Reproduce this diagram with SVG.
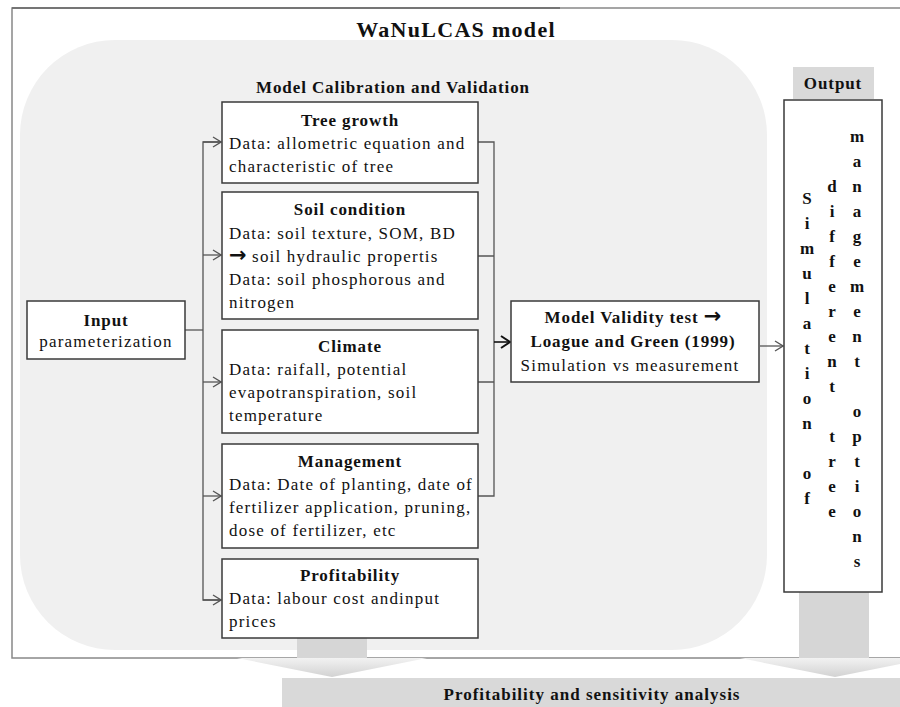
<svg xmlns="http://www.w3.org/2000/svg" width="900" height="707" viewBox="0 0 900 707">
<style>
text{font-family:"Liberation Serif","Times New Roman",serif;fill:#111}
.b{font-weight:bold;font-size:17px;letter-spacing:0.9px;text-anchor:middle}
.r{font-size:17px;letter-spacing:1.2px}
.box{fill:#fff;stroke:#3a3a3a;stroke-width:1.5}
.ln{fill:none;stroke:#555;stroke-width:1.3}
.v{font-weight:bold;font-size:17px;text-anchor:middle}
.arr{font-family:"DejaVu Sans",sans-serif;font-size:21px;letter-spacing:0}
</style>
<defs>
<marker id="ah" markerWidth="10" markerHeight="12" refX="9" refY="6" orient="auto" markerUnits="userSpaceOnUse">
<path d="M1,1 L9,6 L1,11" fill="none" stroke="#555" stroke-width="1.3"/>
</marker>
<marker id="ahb" markerWidth="12" markerHeight="14" refX="10" refY="7" orient="auto" markerUnits="userSpaceOnUse">
<path d="M1,1 L10,7 L1,13" fill="none" stroke="#111" stroke-width="2"/>
</marker>
<linearGradient id="hg" x1="0" y1="0" x2="0" y2="1">
<stop offset="0" stop-color="#f2f2f2"/>
<stop offset="1" stop-color="#d2d2d2"/>
</linearGradient>
</defs>
<rect x="0" y="0" width="900" height="707" fill="#fff"/>
<g id="frame">
<rect x="12" y="8" width="900" height="650" fill="#fff" stroke="#888" stroke-width="1.5"/>
<path d="M12,8 H560" stroke="#666" stroke-width="1.5"/>
<rect x="20" y="40" width="747" height="610" rx="95" ry="95" fill="#f0f0f0"/>
<text x="456" y="37" class="b" style="font-size:22px;letter-spacing:1.3px">WaNuLCAS model</text>
<text x="393" y="93" class="b">Model Calibration and Validation</text>
</g>
<g id="bottom-arrows">
<rect x="297" y="638" width="70" height="21" fill="#d6d6d6"/>
<polygon points="237,658 427,658 332,677" fill="url(#hg)"/>
<rect x="799" y="592" width="70" height="67" fill="#d6d6d6"/>
<polygon points="740,658 930,658 835,677" fill="url(#hg)"/>
</g>
<g id="connectors">
<path class="ln" d="M185,330 H203"/>
<path class="ln" d="M221,142 H203 V600 H221"/>
<path class="ln" d="M203,142 H221" marker-end="url(#ah)"/>
<path class="ln" d="M203,255 H221" marker-end="url(#ah)"/>
<path class="ln" d="M203,382 H221" marker-end="url(#ah)"/>
<path class="ln" d="M203,496 H221" marker-end="url(#ah)"/>
<path class="ln" d="M203,600 H221" marker-end="url(#ah)"/>
<path class="ln" d="M478,142 H494 V496 H478 M478,256 H494 M478,382 H494"/>
<path d="M494,342 H510" fill="none" stroke="#111" stroke-width="1.6" marker-end="url(#ahb)"/>
<path class="ln" d="M760,346 H783" marker-end="url(#ah)"/>
</g>
<g id="input">
<rect class="box" x="27" y="301" width="158" height="58"/>
<text x="106" y="326" class="b">Input</text>
<text x="106" y="347" class="r" style="text-anchor:middle">parameterization</text>
</g>
<g id="tree-growth">
<rect class="box" x="222" y="102" width="256" height="81"/>
<text x="350" y="126" class="b">Tree growth</text>
<text x="229" y="149" class="r">Data: allometric equation and</text>
<text x="229" y="172" class="r">characteristic of tree</text>
</g>
<g id="soil-condition">
<rect class="box" x="222" y="192" width="256" height="127"/>
<text x="350" y="215" class="b">Soil condition</text>
<text x="229" y="239" class="r">Data: soil texture, SOM, BD</text>
<text x="229" y="262" class="r"><tspan class="arr" style="font-weight:bold">→</tspan> soil hydraulic propertis</text>
<text x="229" y="285" class="r">Data: soil phosphorous and</text>
<text x="229" y="308" class="r">nitrogen</text>
</g>
<g id="climate">
<rect class="box" x="222" y="330" width="256" height="103"/>
<text x="350" y="352" class="b">Climate</text>
<text x="229" y="375" class="r">Data: raifall, potential</text>
<text x="229" y="398" class="r">evapotranspiration, soil</text>
<text x="229" y="421" class="r">temperature</text>
</g>
<g id="management">
<rect class="box" x="222" y="444" width="256" height="104"/>
<text x="350" y="467" class="b">Management</text>
<text x="229" y="490" class="r">Data: Date of planting, date of</text>
<text x="229" y="513" class="r">fertilizer application, pruning,</text>
<text x="229" y="536" class="r">dose of fertilizer, etc</text>
</g>
<g id="profitability">
<rect class="box" x="222" y="559" width="256" height="79"/>
<text x="350" y="581" class="b">Profitability</text>
<text x="229" y="604" class="r">Data: labour cost andinput</text>
<text x="229" y="627" class="r">prices</text>
</g>
<g id="validity">
<rect class="box" x="511" y="301" width="248" height="81"/>
<text x="633" y="323" class="b">Model Validity test <tspan class="arr">→</tspan></text>
<text x="633" y="347" class="b">Loague and Green (1999)</text>
<text x="630" y="371" class="r" style="text-anchor:middle">Simulation vs measurement</text>
</g>
<g id="output-label">
<rect x="793" y="67" width="81" height="32" fill="#d9d9d9"/>
<text x="833" y="89" class="b">Output</text>
</g>
<g id="output">
<rect class="box" x="784" y="100" width="98" height="492"/>
<text class="v"><tspan x="807" y="204">S</tspan><tspan x="807" dy="25">i</tspan><tspan x="807" dy="25">m</tspan><tspan x="807" dy="25">u</tspan><tspan x="807" dy="25">l</tspan><tspan x="807" dy="25">a</tspan><tspan x="807" dy="25">t</tspan><tspan x="807" dy="25">i</tspan><tspan x="807" dy="25">o</tspan><tspan x="807" dy="25">n</tspan><tspan x="807" dy="50">o</tspan><tspan x="807" dy="25">f</tspan></text>
<text class="v"><tspan x="832" y="192">d</tspan><tspan x="832" dy="25">i</tspan><tspan x="832" dy="25">f</tspan><tspan x="832" dy="25">f</tspan><tspan x="832" dy="25">e</tspan><tspan x="832" dy="25">r</tspan><tspan x="832" dy="25">e</tspan><tspan x="832" dy="25">n</tspan><tspan x="832" dy="25">t</tspan><tspan x="832" dy="50">t</tspan><tspan x="832" dy="25">r</tspan><tspan x="832" dy="25">e</tspan><tspan x="832" dy="25">e</tspan></text>
<text class="v"><tspan x="857" y="142">m</tspan><tspan x="857" dy="25">a</tspan><tspan x="857" dy="25">n</tspan><tspan x="857" dy="25">a</tspan><tspan x="857" dy="25">g</tspan><tspan x="857" dy="25">e</tspan><tspan x="857" dy="25">m</tspan><tspan x="857" dy="25">e</tspan><tspan x="857" dy="25">n</tspan><tspan x="857" dy="25">t</tspan><tspan x="857" dy="50">o</tspan><tspan x="857" dy="25">p</tspan><tspan x="857" dy="25">t</tspan><tspan x="857" dy="25">i</tspan><tspan x="857" dy="25">o</tspan><tspan x="857" dy="25">n</tspan><tspan x="857" dy="25">s</tspan></text>
</g>
<g id="profitability-sensitivity">
<rect x="282" y="678" width="630" height="40" fill="#d9d9d9"/>
<text x="592" y="700" class="b" style="letter-spacing:1px">Profitability and sensitivity analysis</text>
</g>
</svg>
